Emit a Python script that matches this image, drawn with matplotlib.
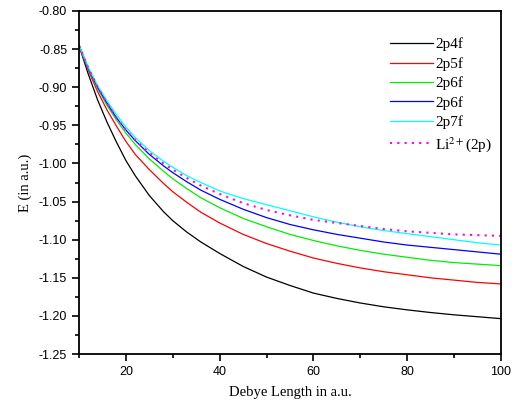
import numpy as np
import matplotlib
matplotlib.use('Agg')
import matplotlib.pyplot as plt
from matplotlib.ticker import MultipleLocator, FormatStrFormatter

plt.rcParams['mathtext.fontset'] = 'stix'

# Debye length (a.u.)
debye = [10, 12, 14, 16, 18, 20, 22, 25, 28, 30, 33, 36, 40,
         45, 50, 55, 60, 65, 70, 75, 80, 85, 90, 95, 100]

# energies
e_2p4f = [-0.845, -0.883, -0.917, -0.946, -0.972, -0.996, -1.016, -1.042, -1.063, -1.075,
          -1.090, -1.103, -1.118, -1.135, -1.149, -1.160, -1.170, -1.177, -1.183, -1.188,
          -1.192, -1.1955, -1.1985, -1.201, -1.2035]
e_2p5f = [-0.845, -0.878, -0.906, -0.930, -0.951, -0.971, -0.988, -1.008, -1.026, -1.037,
          -1.051, -1.064, -1.078, -1.093, -1.105, -1.115, -1.124, -1.131, -1.137, -1.142,
          -1.146, -1.150, -1.153, -1.156, -1.158]
e_2p6f_a = [-0.845, -0.876, -0.902, -0.924, -0.943, -0.960, -0.975, -0.994, -1.010, -1.020,
            -1.033, -1.045, -1.058, -1.072, -1.083, -1.093, -1.101, -1.108, -1.114, -1.119,
            -1.123, -1.127, -1.130, -1.132, -1.134]
e_2p6f_b = [-0.845, -0.875, -0.900, -0.921, -0.940, -0.956, -0.970, -0.988, -1.003, -1.012,
            -1.024, -1.035, -1.047, -1.060, -1.071, -1.080, -1.087, -1.093, -1.098, -1.103,
            -1.107, -1.110, -1.113, -1.116, -1.119]
e_2p7f = [-0.845, -0.874, -0.898, -0.918, -0.936, -0.952, -0.966, -0.983, -0.997, -1.005,
          -1.016, -1.025, -1.036, -1.046, -1.054, -1.062, -1.070, -1.077, -1.083, -1.088,
          -1.092, -1.096, -1.100, -1.104, -1.107]
e_li = [-0.845, -0.875, -0.900, -0.921, -0.940, -0.956, -0.969, -0.986, -1.000, -1.008,
        -1.019, -1.029, -1.040, -1.052, -1.061, -1.068, -1.074, -1.078, -1.082, -1.086,
        -1.089, -1.091, -1.093, -1.094, -1.095]

fig = plt.figure(figsize=(5.16, 4.07), dpi=100)
ax = fig.add_axes([0.153, 0.130, 0.818, 0.843])

lw = 0.9
ax.plot(debye, e_2p4f, color='black', lw=lw, label='2p4f')
ax.plot(debye, e_2p5f, color='red', lw=lw, label='2p5f')
ax.plot(debye, e_2p6f_a, color='#00ee00', lw=lw, label='2p6f')
ax.plot(debye, e_2p6f_b, color='blue', lw=lw, label='2p6f')
ax.plot(debye, e_2p7f, color='cyan', lw=lw, label='2p7f')
ax.plot(debye, e_li, color='magenta', lw=1.5, linestyle=(0, (1, 2.5)),
        label=r'Li$^{2+}$(2p)')

ax.set_xlim(10, 100)
ax.set_ylim(-1.25, -0.80)
ax.xaxis.set_major_locator(MultipleLocator(20))
ax.xaxis.set_minor_locator(MultipleLocator(10))
ax.yaxis.set_major_locator(MultipleLocator(0.05))
ax.yaxis.set_minor_locator(MultipleLocator(0.025))
ax.yaxis.set_major_formatter(FormatStrFormatter('%.2f'))
ax.set_xticks([20, 40, 60, 80, 100])

for s in ax.spines.values():
    s.set_linewidth(1.3)
ax.tick_params(which='major', direction='out', length=5, width=1.2,
               labelsize=9, top=False, right=False)
ax.tick_params(which='minor', direction='out', length=3, width=1.2,
               top=False, right=False)
for lab in ax.get_xticklabels() + ax.get_yticklabels():
    lab.set_family('Liberation Sans')

ax.set_xlabel('Debye Length in a.u.', family='Liberation Serif', fontsize=10.5, labelpad=6)
ax.set_ylabel('E (in a.u.)', family='Liberation Serif', fontsize=10.5, labelpad=5)

ax.legend(loc='upper left', bbox_to_anchor=(0.723, 0.94), frameon=False,
          prop={'family': 'Liberation Serif', 'size': 11},
          handlelength=2.8, handletextpad=0.15, labelspacing=0.37, borderaxespad=0)

fig.savefig('out.png', dpi=100)
